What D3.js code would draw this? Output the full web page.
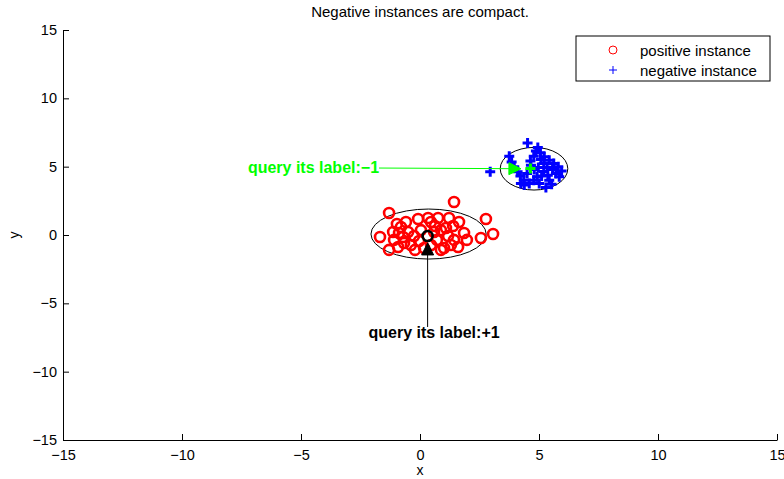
<!DOCTYPE html>
<html>
<head>
<meta charset="utf-8">
<script src="https://cdn.jsdelivr.net/npm/d3@7"></script>
<style>
body { margin: 0; background: #fff; }
text { font-family: "Liberation Sans", Arial, sans-serif; }
</style>
</head>
<body>
<div id="chart-area"></div>
<script>
// positive instances (red circles)
var posX = [1.43, -1.30, 2.77, 3.07, 2.56, -1.68, -1.30, -0.97, -0.80, -0.08, 0.34, 0.76, 1.64, 1.39, 1.85,
    1.09, 0.88, 1.43, 1.30, 1.60, 0.88, 1.01, -0.38, -0.67, -1.09, -0.92, -0.71, -0.50, -0.25, -0.04,
    0.04, 0.59, 0.71, 0.46, 0.17, -0.21, 1.18, -0.59, -1.13, 1.22, 0.46, 1.97, -0.88, 0.63];
var posY = [2.41, 1.61, 1.17, 0.07, -0.22, -0.15, -1.09, 0.80, 0.58, 1.17, 1.24, 1.24, 0.95, 0.66, 0.15,
    0.51, 0.36, -0.36, -0.73, -0.88, -1.09, -0.95, -0.73, -0.58, -0.36, -0.88, -0.15, 0.22, -0.07, -0.44,
    0.36, 0.22, -0.36, -0.73, -0.95, -1.09, -0.07, 0.95, 0.22, 1.24, 0.95, -0.36, 0.15, 0.66];
// negative instances (blue pluses)
var negX = [4.52, 2.95, 3.75, 4.95, 5.06, 4.78, 4.64, 5.22, 5.43, 5.62, 5.81, 5.95, 5.34, 5.20, 5.11,
    4.92, 4.78, 4.59, 4.36, 4.22, 4.50, 5.43, 5.29, 5.53, 5.20, 4.97, 4.80, 4.38, 3.96, 4.10,
    4.66, 5.71, 5.57, 4.87, 3.85, 4.24, 5.01, 5.85, 5.37, 5.08];
var negY = [6.74, 4.62, 5.77, 6.40, 6.01, 5.77, 5.42, 5.72, 5.47, 5.23, 4.99, 4.69, 4.94, 4.65, 4.31,
    4.26, 4.01, 3.77, 4.01, 4.31, 4.50, 4.01, 3.48, 3.72, 5.23, 4.94, 4.80, 3.65, 4.99, 4.62,
    5.11, 4.50, 4.80, 6.15, 5.35, 3.77, 3.77, 4.26, 4.38, 5.53];
// queried points
var queryPos = [0.32, -0.07];
var queryNeg = [4.64, 4.87];
// enclosing ellipses: cx, cy, rx, ry
var posEllipse = [0.36, 0.07, 2.42, 1.83];
var negEllipse = [4.79, 4.85, 1.42, 1.56];
var ticks = [-15, -10, -5, 0, 5, 10, 15];
var legendLabels = ["positive instance", "negative instance"];

var W = 784, H = 479;
var margin = {left: 63, right: 7, top: 30, bottom: 39};

var svg = d3.select("#chart-area").append("svg")
    .attr("width", W)
    .attr("height", H);

var x = d3.scaleLinear().domain([-15, 15]).range([margin.left, W - margin.right]);
var y = d3.scaleLinear().domain([-15, 15]).range([H - margin.bottom, margin.top]);

var fmt = (d) => d < 0 ? "\u2212" + Math.abs(d) : "" + d;

var xAxis = svg.append("g")
    .attr("transform", "translate(0," + y(-15) + ")")
    .call(d3.axisBottom(x).tickValues(ticks).tickFormat(fmt).tickSizeInner(-6).tickSizeOuter(0).tickPadding(10));
var yAxis = svg.append("g")
    .attr("transform", "translate(" + x(-15) + ",0)")
    .call(d3.axisLeft(y).tickValues(ticks).tickFormat(fmt).tickSizeInner(-6).tickSizeOuter(0).tickPadding(6));
[xAxis, yAxis].forEach((g) => {
    g.selectAll("text").attr("font-size", 14.5).attr("fill", "#000").attr("font-family", "Liberation Sans, Arial, sans-serif");
    g.selectAll("line").attr("stroke", "#000");
    g.select(".domain").attr("stroke", "#000");
});

svg.append("text").attr("x", x(0)).attr("y", 17).attr("text-anchor", "middle")
    .attr("font-size", 15).text("Negative instances are compact.");
svg.append("text").attr("x", x(0)).attr("y", 475).attr("text-anchor", "middle")
    .attr("font-size", 14).text("x");
svg.append("text").attr("transform", "translate(19," + y(0) + ") rotate(-90)").attr("text-anchor", "middle")
    .attr("font-size", 14).text("y");

// ellipses
[posEllipse, negEllipse].forEach((e) => {
    svg.append("ellipse")
        .attr("cx", x(e[0])).attr("cy", y(e[1]))
        .attr("rx", x(e[0] + e[2]) - x(e[0])).attr("ry", y(e[1]) - y(e[1] + e[3]))
        .attr("fill", "none").attr("stroke", "#000").attr("stroke-width", 1);
});

// positive points
svg.selectAll("circle.pos").data(posX).enter().append("circle")
    .attr("class", "pos")
    .attr("cx", (d) => x(d))
    .attr("cy", (d, i) => y(posY[i]))
    .attr("r", 5)
    .attr("fill", "none").attr("stroke", "#f00").attr("stroke-width", 2.6);

// negative points
var plus = (cx, cy, s) => "M" + (cx - s) + "," + cy + "H" + (cx + s) + "M" + cx + "," + (cy - s) + "V" + (cy + s);
svg.selectAll("path.neg").data(negX).enter().append("path")
    .attr("class", "neg")
    .attr("d", (d, i) => plus(x(d), y(negY[i]), 5))
    .attr("stroke", "#00f").attr("stroke-width", 3).attr("fill", "none");

// queried positive point
svg.append("circle").attr("cx", x(queryPos[0])).attr("cy", y(queryPos[1])).attr("r", 5)
    .attr("fill", "none").attr("stroke", "#000").attr("stroke-width", 2.6);
// queried negative point
svg.append("path").attr("d", plus(x(queryNeg[0]), y(queryNeg[1]), 5))
    .attr("stroke", "#0f0").attr("stroke-width", 3);

// annotation arrows
function arrow(x0, y0, x1, y1, color, text, anchor, tx, ty) {
    var px0 = x(x0), py0 = y(y0), px1 = x(x1), py1 = y(y1);
    var ang = Math.atan2(py1 - py0, px1 - px0), len = 12, hw = 6;
    svg.append("line").attr("x1", px0).attr("y1", py0).attr("x2", px1).attr("y2", py1)
        .attr("stroke", color).attr("stroke-width", 1);
    var bx = px1 - len * Math.cos(ang), by = py1 - len * Math.sin(ang);
    var nx = -Math.sin(ang) * hw, ny = Math.cos(ang) * hw;
    svg.append("path")
        .attr("d", "M" + px1 + "," + py1 + "L" + (bx + nx) + "," + (by + ny) + "L" + (bx - nx) + "," + (by - ny) + "Z")
        .attr("fill", color).attr("stroke", color);
    svg.append("text").attr("x", x(tx)).attr("y", y(ty)).attr("text-anchor", anchor)
        .attr("dominant-baseline", "central")
        .attr("font-size", 16).attr("font-weight", "bold").attr("fill", color).text(text);
}
arrow(-1.72, 4.9, 4.24, 4.85, "#0f0", "query its label:\u22121", "end", -1.72, 4.97);
arrow(0.32, -6.73, 0.32, -0.58, "#000", "query its label:+1", "middle", 0.59, -7.17);

// legend
var lg = svg.append("g");
lg.append("rect").attr("x", 576).attr("y", 36).attr("width", 194).attr("height", 45)
    .attr("fill", "#fff").attr("stroke", "#000");
lg.append("circle").attr("cx", 613).attr("cy", 50).attr("r", 4)
    .attr("fill", "none").attr("stroke", "#f00").attr("stroke-width", 1);
lg.append("path").attr("d", plus(613, 70, 4)).attr("stroke", "#00f").attr("stroke-width", 1);
lg.selectAll("text").data(legendLabels).enter().append("text")
    .attr("x", 640).attr("y", (d, i) => 50 + i * 20)
    .attr("dominant-baseline", "central").attr("font-size", 15).text((d) => d);
</script>
</body>
</html>
